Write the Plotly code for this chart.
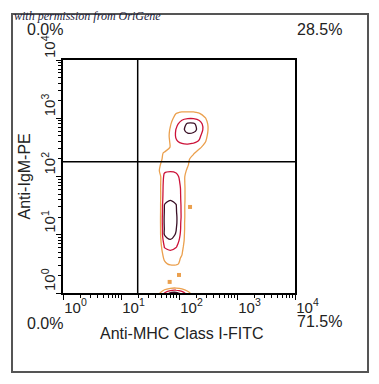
import plotly.graph_objects as go

# ---- data ----
# bin centres (log10 of fluorescence) of the density grid
fitc_bins_log = [1.55, 1.65, 1.75, 1.85, 1.95, 2.05, 2.15, 2.25, 2.35, 2.45, 2.55, 2.65]
pe_bins_log = [-0.1, 0.0, 0.1, 0.2, 0.3, 0.4, 0.5, 0.6, 0.7, 0.8, 0.9, 1.0, 1.1, 1.2,
               1.3, 1.4, 1.5, 1.6, 1.7, 1.8, 1.9, 2.0, 2.1, 2.2, 2.3, 2.4, 2.5, 2.6,
               2.7, 2.8, 2.9, 3.0, 3.1, 3.2]

# relative event density (rows follow pe_bins_log, columns follow fitc_bins_log)
density = [
    [0, 1.5, 3.5, 4.5, 5.0, 4.0, 2.5, 1.2, 0, 0, 0, 0],
    [0, 0.7, 2.0, 3.1, 3.3, 2.6, 1.4, 0.4, 0, 0, 0, 0],
    [0, 0, 0.2, 0.5, 0.6, 0.4, 0.1, 0, 0, 0, 0, 0],
    [0, 0, 0, 0, 0, 0, 0, 0, 0, 0, 0, 0],
    [0, 0, 0, 0, 0, 0, 0, 0, 0, 0, 0, 0],
    [0, 0, 0, 0, 0, 0, 0, 0, 0, 0, 0, 0],
    [0, 0, 0.8, 1.2, 1.2, 0.7, 0, 0, 0, 0, 0, 0],
    [0, 0, 1.2, 1.4, 1.3, 0.9, 0, 0, 0, 0, 0, 0],
    [0, 0, 1.6, 1.8, 1.6, 1.1, 0, 0, 0, 0, 0, 0],
    [0, 0, 2.1, 2.4, 2.1, 1.3, 0.1, 0, 0, 0, 0, 0],
    [0, 0, 2.6, 2.9, 2.5, 1.5, 0.2, 0, 0, 0, 0, 0],
    [0, 0, 3.05, 3.4, 2.9, 1.6, 0.2, 0, 0, 0, 0, 0],
    [0, 0, 3.1, 3.6, 3.05, 1.7, 0.2, 0, 0, 0, 0, 0],
    [0, 0, 3.2, 3.7, 3.2, 1.7, 0.2, 0, 0, 0, 0, 0],
    [0, 0, 3.2, 3.7, 3.2, 1.8, 0.2, 0, 0, 0, 0, 0],
    [0, 0, 3.1, 3.6, 3.1, 1.8, 0.2, 0, 0, 0, 0, 0],
    [0, 0, 3.05, 3.5, 3.05, 1.8, 0.2, 0, 0, 0, 0, 0],
    [0, 0.1, 2.8, 2.95, 2.8, 1.8, 0.3, 0, 0, 0, 0, 0],
    [0, 0.1, 2.7, 2.9, 2.7, 1.8, 0.3, 0, 0, 0, 0, 0],
    [0, 0.2, 2.6, 2.9, 2.6, 1.8, 0.3, 0, 0, 0, 0, 0],
    [0, 0.2, 2.5, 2.8, 2.5, 1.7, 0.3, 0, 0, 0, 0, 0],
    [0, 0.3, 2.3, 2.5, 2.3, 1.6, 0.4, 0, 0, 0, 0, 0],
    [0, 0.9, 1.8, 1.9, 1.8, 1.6, 0.8, 0, 0, 0, 0, 0],
    [0, 0.8, 1.5, 1.6, 1.6, 1.5, 1.1, 0.3, 0, 0, 0, 0],
    [0, 0.6, 1.3, 1.4, 1.4, 1.3, 1.2, 0.6, 0, 0, 0, 0],
    [0, 0.4, 1.2, 1.3, 1.3, 1.2, 1.2, 1.1, 0.5, 0, 0, 0],
    [0, 0, 0.3, 1.05, 1.5, 1.6, 1.6, 1.5, 1.2, 0.6, 0, 0],
    [0, 0, 0.2, 1.1, 1.9, 2.2, 2.3, 2.2, 1.9, 1.1, 0.2, 0],
    [0, 0, 0.2, 1.2, 2.1, 2.5, 2.6, 2.5, 2.2, 1.4, 0.3, 0],
    [0, 0, 0.2, 1.1, 2.05, 2.6, 3.5, 3.4, 2.6, 1.6, 0.4, 0],
    [0, 0, 0.1, 0.9, 1.8, 2.4, 3.2, 3.2, 2.5, 1.5, 0.4, 0],
    [0, 0, 0, 0.6, 1.4, 1.8, 1.9, 1.9, 1.7, 1.1, 0.2, 0],
    [0, 0, 0, 0.3, 0.9, 1.1, 1.1, 1.1, 0.9, 0.4, 0, 0],
    [0, 0, 0, 0, 0, 0, 0, 0, 0, 0, 0, 0],
]

# isolated events outside the contours
outlier_fitc = [100, 69, 155]
outlier_pe = [2.04, 1.55, 30]

# quadrant gates
x_gate = 19.4
y_gate = 180

# axis ticks
tick_values = [1, 10, 100, 1000, 10000]
tick_labels = ["10<sup>0</sup>", "10<sup>1</sup>", "10<sup>2</sup>", "10<sup>3</sup>", "10<sup>4</sup>"]
minor_values = [m * 10 ** d for d in range(4) for m in range(2, 10)]

quadrant_pct = {"UL": "0.0%", "UR": "28.5%", "LL": "0.0%", "LR": "71.5%"}
x_title = "Anti-MHC Class I-FITC"
y_title = "Anti-IgM-PE"
watermark = "with permission from OriGene"

ORANGE = "#EBA04E"
RED = "#CC1238"
DARK = "#3A1026"
FONT = "Liberation Sans, Arial, sans-serif"

fig = go.Figure()

fig.add_trace(go.Contour(
    x=[10 ** v for v in fitc_bins_log],
    y=[10 ** v for v in pe_bins_log],
    z=density,
    contours=dict(start=1, end=3, size=1, coloring="lines"),
    colorscale=[[0, ORANGE], [0.5, RED], [1, DARK]],
    zmin=1, zmax=3, zauto=False,
    showscale=False,
    line=dict(width=1.3, smoothing=0.9),
    hoverinfo="skip",
))

fig.add_trace(go.Scatter(
    x=outlier_fitc, y=outlier_pe, mode="markers",
    marker=dict(symbol="square", size=4, color=ORANGE),
    hoverinfo="skip", showlegend=False,
))

fig.add_trace(go.Scatter(x=[1, 10000], y=[y_gate, y_gate], mode="lines",
                         line=dict(color="black", width=1.5), hoverinfo="skip", showlegend=False))
fig.add_trace(go.Scatter(x=[x_gate, x_gate], y=[1, 10000], mode="lines",
                         line=dict(color="black", width=1.5), hoverinfo="skip", showlegend=False))

axis_common = dict(
    type="log", range=[0, 4], automargin=False,
    tickvals=tick_values, ticktext=tick_labels,
    ticks="outside", ticklen=5, tickwidth=1, tickcolor="black",
    showline=True, linecolor="black", linewidth=1.5, mirror=True,
    showgrid=False, zeroline=False,
    tickfont=dict(family=FONT, size=15, color="#222"),
    minor=dict(tickvals=minor_values, ticks="outside", ticklen=3, tickcolor="black", showgrid=False),
)

# the page body adds an 8px margin, so the figure is 16px smaller than the window
fig.update_layout(
    width=363, height=368,
    margin=dict(l=55, r=76, t=52, b=83),
    paper_bgcolor="white", plot_bgcolor="white",
    showlegend=False,
    xaxis=dict(**axis_common, ticklabelposition="outside right"),
    yaxis=dict(**axis_common, tickangle=-90, ticklabelposition="outside top"),
)

ann_font = dict(family=FONT, size=16, color="#222")
fig.add_annotation(x=-0.164, y=1.129, xref="paper", yref="paper", text=quadrant_pct["UL"],
                   showarrow=False, xanchor="left", yanchor="middle", font=ann_font)
fig.add_annotation(x=1.0, y=1.129, xref="paper", yref="paper", text=quadrant_pct["UR"],
                   showarrow=False, xanchor="left", yanchor="middle", font=ann_font)
fig.add_annotation(x=-0.164, y=-0.129, xref="paper", yref="paper", text=quadrant_pct["LL"],
                   showarrow=False, xanchor="left", yanchor="middle", font=ann_font)
fig.add_annotation(x=1.0, y=-0.124, xref="paper", yref="paper", text=quadrant_pct["LR"],
                   showarrow=False, xanchor="left", yanchor="middle", font=ann_font)
fig.add_annotation(x=0.513, y=-0.172, xref="paper", yref="paper", text=x_title,
                   showarrow=False, xanchor="center", yanchor="middle", font=ann_font)
fig.add_annotation(x=-0.164, y=0.5, xref="paper", yref="paper", text=y_title, textangle=-90,
                   showarrow=False, xanchor="center", yanchor="middle", font=ann_font)
fig.add_annotation(x=-0.22, y=1.189, xref="paper", yref="paper", text="<i>" + watermark + "</i>",
                   showarrow=False, xanchor="left", yanchor="middle",
                   font=dict(family="Liberation Serif, serif", size=12, color="#1c1c3a"))

fig.add_shape(type="rect", xref="paper", yref="paper",
              x0=-0.2198, x1=1.3147, y0=-0.339, y1=1.1974,
              line=dict(color="#555", width=2), layer="below")

fig.write_html("out.html")
